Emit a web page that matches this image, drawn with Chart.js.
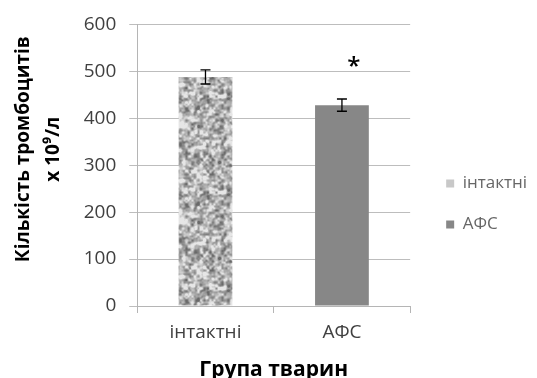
<!DOCTYPE html>
<html>
<head>
<meta charset="utf-8">
<script src="https://cdn.jsdelivr.net/npm/chart.js@4.4.1/dist/chart.umd.min.js"></script>
<style>
  html, body { margin: 0; padding: 0; background: #ffffff; }
  #wrap { width: 537px; height: 378px; position: relative; }
</style>
</head>
<body>
<div id="wrap"><canvas id="c"></canvas></div>
<script>
// ---- data ----
const categories = ['інтактні', 'АФС'];
const meanValues = [488, 428];
const errorValues = [15, 13];
const significance = ['', '*'];
const yTicks = [0, 100, 200, 300, 400, 500, 600];
const yTitleLines = ['Кількість тромбоцитів', 'х 10⁹/л'];
const xTitle = 'Група тварин';

// ---- texture for the "intact" bar (granite-like gray) ----
function makeTexture() {
  const size = 96;
  const cv = document.createElement('canvas');
  cv.width = size; cv.height = size;
  const cx = cv.getContext('2d');
  let seed = 424242;
  function rnd() { seed = (seed * 1103515245 + 12345) & 0x7fffffff; return seed / 0x7fffffff; }
  function layer(g) {
    const n = size / g, grid = [];
    for (let i = 0; i < n * n; i++) grid.push(rnd());
    return { g, n, grid };
  }
  function sample(L, x, y) {
    const gx = x / L.g, gy = y / L.g;
    const i0 = Math.floor(gx), j0 = Math.floor(gy);
    const fx = gx - i0, fy = gy - j0;
    const sx = fx * fx * (3 - 2 * fx), sy = fy * fy * (3 - 2 * fy);
    const at = (i, j) => L.grid[((j % L.n + L.n) % L.n) * L.n + ((i % L.n + L.n) % L.n)];
    return (at(i0, j0) * (1 - sx) + at(i0 + 1, j0) * sx) * (1 - sy) +
           (at(i0, j0 + 1) * (1 - sx) + at(i0 + 1, j0 + 1) * sx) * sy;
  }
  const A = layer(6), B = layer(3), C = layer(2);
  const img = cx.createImageData(size, size);
  for (let y = 0; y < size; y++) {
    for (let x = 0; x < size; x++) {
      let v = 0.3 * sample(A, x, y) + 0.45 * sample(B, x, y) + 0.25 * sample(C, x, y);
      v = Math.max(0, Math.min(1, (v - 0.5) * 2.2 + 0.62));
      const c = Math.round(105 + v * 125);
      const k = (y * size + x) * 4;
      img.data[k] = c; img.data[k + 1] = c; img.data[k + 2] = c; img.data[k + 3] = 255;
    }
  }
  cx.putImageData(img, 0, 0);
  return cv;
}
const texCanvas = makeTexture();
const ctx0 = document.getElementById('c').getContext('2d');
const texPattern = ctx0.createPattern(texCanvas, 'repeat');
const barColors = [texPattern, '#878787'];
const legendColors = ['#c8c8c8', '#878787'];

// ---- plugins ----
const errorBarPlugin = {
  id: 'errorBars',
  afterDatasetsDraw(chart) {
    const ctx = chart.ctx;
    const yScale = chart.scales.y;
    const meta = chart.getDatasetMeta(0);
    ctx.save();
    ctx.strokeStyle = '#000000';
    ctx.lineWidth = 1.3;
    meta.data.forEach((bar, i) => {
      const x = bar.x;
      const yTop = yScale.getPixelForValue(meanValues[i] + errorValues[i]);
      const yBot = yScale.getPixelForValue(meanValues[i] - errorValues[i]);
      const cap = 5;
      ctx.beginPath();
      ctx.moveTo(x, yTop); ctx.lineTo(x, yBot);
      ctx.moveTo(x - cap, yTop); ctx.lineTo(x + cap, yTop);
      ctx.moveTo(x - cap, yBot); ctx.lineTo(x + cap, yBot);
      ctx.stroke();
      if (significance[i]) {
        ctx.fillStyle = '#000000';
        ctx.font = '600 24px "Open Sans"';
        ctx.textAlign = 'center';
        ctx.textBaseline = 'middle';
        ctx.fillText(significance[i], x + 12, yTop - 32);
      }
    });
    ctx.restore();
  }
};

// widens the room kept for the legend without moving its items,
// and lifts the y-axis title a little, as in the reference
const LEGEND_EXTRA = 12;
const Y_TITLE_LIFT = 16;
const layoutTweakPlugin = {
  id: 'layoutTweak',
  beforeLayout(chart) {
    const lg = chart.legend;
    if (lg && !lg.__wrapped) {
      const orig = lg.fit;
      lg.fit = function () { orig.call(this); if (this.width > 0) this.width += LEGEND_EXTRA; };
      lg.__wrapped = true;
    }
  },
  afterLayout(chart) {
    const lg = chart.legend;
    if (lg && lg.width > LEGEND_EXTRA) { lg.left += LEGEND_EXTRA; lg.width -= LEGEND_EXTRA; }
    const ys = chart.scales.y;
    if (ys && !ys.__titleWrapped) {
      const origTitle = ys.drawTitle;
      ys.drawTitle = function () {
        this.ctx.save();
        this.ctx.translate(0, -Y_TITLE_LIFT);
        origTitle.call(this);
        this.ctx.restore();
      };
      ys.__titleWrapped = true;
    }
  }
};

new Chart(ctx0, {
  type: 'bar',
  data: {
    labels: categories,
    datasets: [{
      data: meanValues,
      backgroundColor: barColors,
      borderWidth: 0,
      barPercentage: 1,
      categoryPercentage: 0.394
    }]
  },
  options: {
    responsive: true,
    maintainAspectRatio: false,
    animation: false,
    events: [],
    layout: { padding: { top: 11, right: 0, bottom: -5, left: 4 } },
    plugins: {
      tooltip: { enabled: false },
      legend: {
        position: 'right',
        title: { display: true, text: ' ', padding: { top: 1, bottom: 1 }, font: { size: 10 } },
        labels: {
          boxWidth: 8,
          boxHeight: 8,
          padding: 24,
          color: '#404040',
          font: { family: '"Open Sans"', size: 17 },
          generateLabels() {
            return categories.map((c, i) => ({
              text: c,
              fillStyle: legendColors[i],
              strokeStyle: 'rgba(0,0,0,0)',
              lineWidth: 0,
              hidden: false,
              index: i
            }));
          }
        }
      }
    },
    scales: {
      x: {
        grid: { display: true, drawOnChartArea: false, drawTicks: true, tickLength: 7, color: '#b5b5b5', offset: true },
        border: { display: true, color: '#b5b5b5' },
        ticks: { color: '#404040', font: { family: '"Open Sans"', size: 19 }, padding: 8 },
        title: { display: true, text: xTitle, color: '#000000', font: { family: '"Open Sans"', size: 21, weight: 'bold' }, padding: { top: 6, bottom: 0 } }
      },
      y: {
        min: 0,
        max: 600,
        afterBuildTicks(scale) { scale.ticks = yTicks.map(v => ({ value: v })); },
        grid: { color: '#bdbdbd', tickLength: 8, drawTicks: true },
        border: { display: true, color: '#b5b5b5' },
        ticks: { color: '#404040', font: { family: '"Open Sans"', size: 19 }, padding: 13 },
        title: { display: true, text: yTitleLines, color: '#000000', font: { family: '"Open Sans"', size: 19, weight: 'bold', lineHeight: 1.55 }, padding: { top: 5, bottom: 15 } }
      }
    }
  },
  plugins: [layoutTweakPlugin, errorBarPlugin]
});
</script>
</body>
</html>
